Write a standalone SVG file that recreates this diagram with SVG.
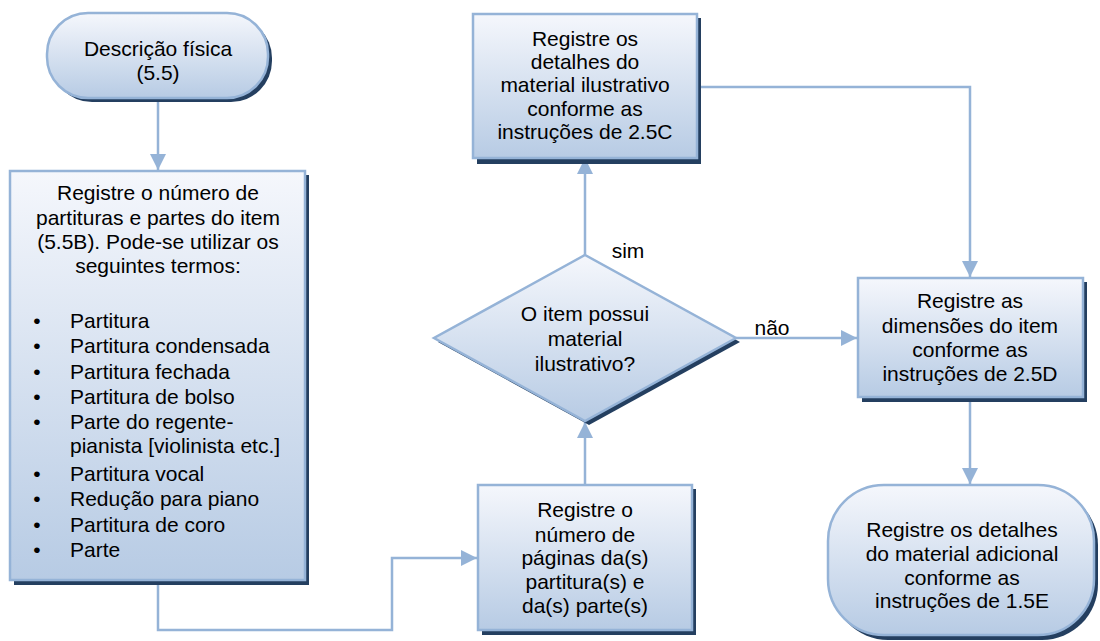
<svg xmlns="http://www.w3.org/2000/svg" width="1100" height="641" viewBox="0 0 1100 641">
  <style>
    .shadow { fill: #243F60; }
    .shape { fill: url(#boxFill); stroke: #95B3D7; stroke-width: 2.5; }
    .txt { font-family: "Liberation Sans", Arial, sans-serif; font-size: 21px; fill: #000; text-anchor: middle; }
    .left { text-anchor: start; }
    .conn { fill: none; stroke: #95B3D7; stroke-width: 2.5; }
  </style>
  <defs>
    <linearGradient id="boxFill" x1="0" y1="0" x2="0" y2="1">
      <stop offset="0" stop-color="#F5F7FC"/>
      <stop offset="1" stop-color="#B7CBE4"/>
    </linearGradient>
    <marker id="head" viewBox="0 0 16 16" refX="16" refY="8" markerWidth="16" markerHeight="16" markerUnits="userSpaceOnUse" orient="auto">
      <path d="M0,0 L16,8 L0,16 z" fill="#95B3D7"/>
    </marker>
  </defs>

  <!-- connectors -->
  <g id="connectors">
    <path class="conn" d="M158,100 V170" marker-end="url(#head)"/>
    <path class="conn" d="M158,585 V630 H392 V558 H477" marker-end="url(#head)"/>
    <path class="conn" d="M585,485 V422" marker-end="url(#head)"/>
    <path class="conn" d="M585,255 V158" marker-end="url(#head)"/>
    <path class="conn" d="M736,338 H857" marker-end="url(#head)"/>
    <path class="conn" d="M698,87 H970 V277" marker-end="url(#head)"/>
    <path class="conn" d="M970,400 V484" marker-end="url(#head)"/>
    <text class="txt" x="628" y="258">sim</text>
    <text class="txt" x="772" y="335">não</text>
  </g>

  <!-- start terminal -->
  <g id="start">
    <rect class="shadow" x="51" y="17" width="221" height="85" rx="41" ry="41"/>
    <rect class="shape" x="47" y="13" width="221" height="85" rx="41" ry="41"/>
    <text class="txt" x="158" y="56">Descrição física</text>
    <text class="txt" x="158" y="80">(5.5)</text>
  </g>

  <!-- score count box -->
  <g id="count">
    <rect class="shadow" x="14" y="175" width="295" height="410"/>
    <rect class="shape" x="10" y="171" width="295" height="409"/>
    <text class="txt" x="158" y="200">Registre o número de</text>
    <text class="txt" x="158" y="225">partituras e partes do item</text>
    <text class="txt" x="158" y="249">(5.5B). Pode-se utilizar os</text>
    <text class="txt" x="158" y="273">seguintes termos:</text>
    <g class="txt">
      <text x="37" y="328">•</text>
      <text x="37" y="353">•</text>
      <text x="37" y="379">•</text>
      <text x="37" y="404">•</text>
      <text x="37" y="429">•</text>
      <text x="37" y="481">•</text>
      <text x="37" y="506">•</text>
      <text x="37" y="532">•</text>
      <text x="37" y="557">•</text>
    </g>
    <text class="txt left" x="70" y="328">Partitura</text>
    <text class="txt left" x="70" y="353">Partitura condensada</text>
    <text class="txt left" x="70" y="379">Partitura fechada</text>
    <text class="txt left" x="70" y="404">Partitura de bolso</text>
    <text class="txt left" x="70" y="429">Parte do regente-</text>
    <text class="txt left" x="70" y="453">pianista [violinista etc.]</text>
    <text class="txt left" x="70" y="481">Partitura vocal</text>
    <text class="txt left" x="70" y="506">Redução para piano</text>
    <text class="txt left" x="70" y="532">Partitura de coro</text>
    <text class="txt left" x="70" y="557">Parte</text>
  </g>

  <!-- pages box -->
  <g id="pages">
    <rect class="shadow" x="482" y="489" width="214" height="146"/>
    <rect class="shape" x="478" y="485" width="214" height="145"/>
    <text class="txt" x="585" y="517">Registre o</text>
    <text class="txt" x="585" y="542">número de</text>
    <text class="txt" x="585" y="565">páginas da(s)</text>
    <text class="txt" x="585" y="589">partitura(s) e</text>
    <text class="txt" x="585" y="613">da(s) parte(s)</text>
  </g>

  <!-- decision -->
  <g id="decision">
    <path class="shadow" d="M589,259 L740,342 L589,425 L438,342 z"/>
    <path class="shape" d="M585,255 L736,338 L585,421 L434,338 z"/>
    <text class="txt" x="585" y="321">O item possui</text>
    <text class="txt" x="585" y="346">material</text>
    <text class="txt" x="585" y="371">ilustrativo?</text>
  </g>

  <!-- illustrative material box -->
  <g id="illustrative">
    <rect class="shadow" x="477" y="18" width="224" height="146"/>
    <rect class="shape" x="473" y="14" width="224" height="144"/>
    <text class="txt" x="585" y="46">Registre os</text>
    <text class="txt" x="585" y="69">detalhes do</text>
    <text class="txt" x="585" y="92">material ilustrativo</text>
    <text class="txt" x="585" y="116">conforme as</text>
    <text class="txt" x="585" y="139">instruções de 2.5C</text>
  </g>

  <!-- dimensions box -->
  <g id="dimensions">
    <rect class="shadow" x="862" y="282" width="225" height="120"/>
    <rect class="shape" x="858" y="278" width="225" height="119"/>
    <text class="txt" x="970" y="308">Registre as</text>
    <text class="txt" x="970" y="333">dimensões do item</text>
    <text class="txt" x="970" y="357">conforme as</text>
    <text class="txt" x="970" y="381">instruções de 2.5D</text>
  </g>

  <!-- end terminal -->
  <g id="end">
    <rect class="shadow" x="832" y="489" width="266" height="151" rx="56" ry="56"/>
    <rect class="shape" x="828" y="485" width="266" height="150" rx="56" ry="56"/>
    <text class="txt" x="962" y="537">Registre os detalhes</text>
    <text class="txt" x="962" y="561">do material adicional</text>
    <text class="txt" x="962" y="585">conforme as</text>
    <text class="txt" x="962" y="608">instruções de 1.5E</text>
  </g>
</svg>
